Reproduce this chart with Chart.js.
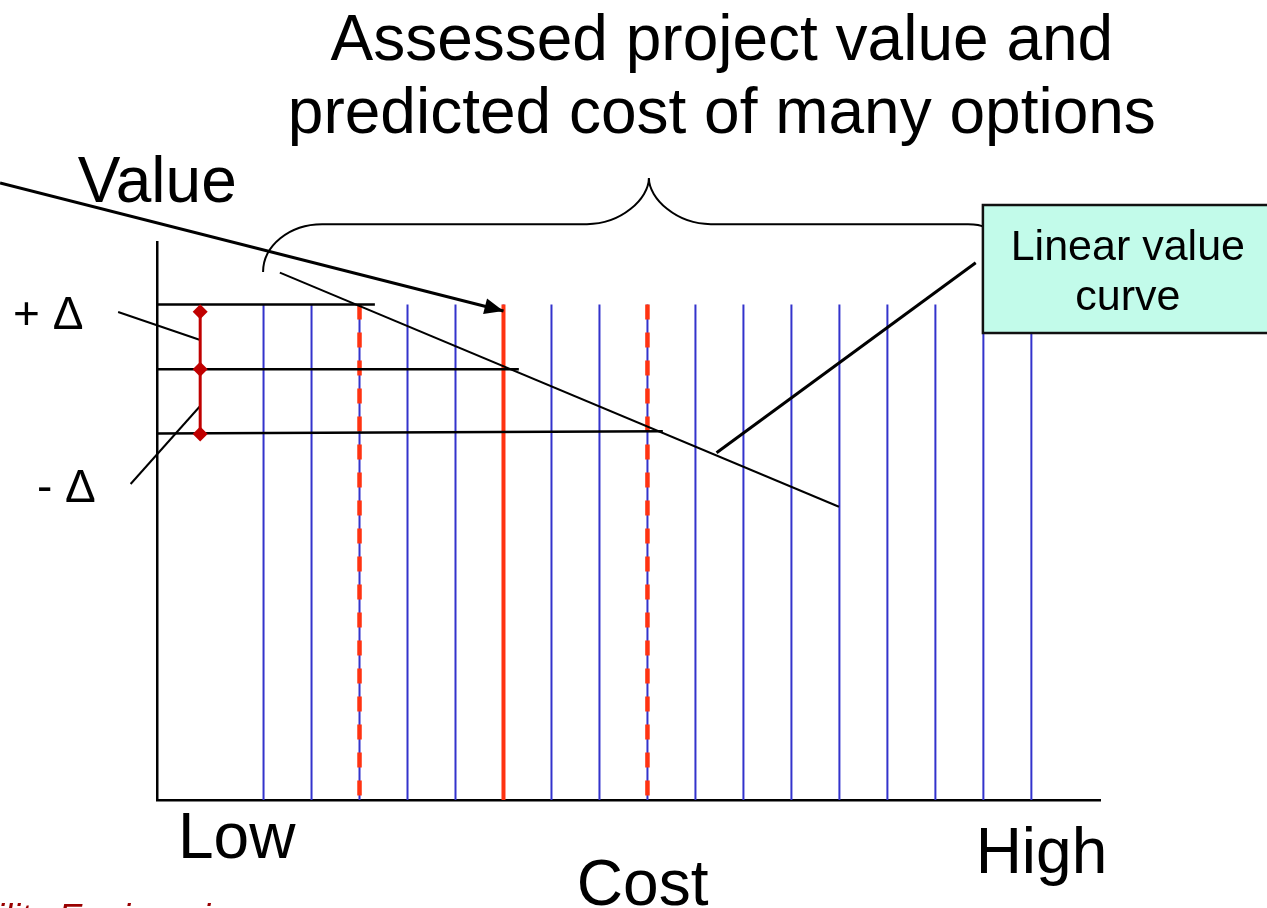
<!DOCTYPE html>
<html>
<head>
<meta charset="utf-8">
<script src="https://cdn.jsdelivr.net/npm/chart.js@4.4.1/dist/chart.umd.min.js"></script>
<style>
  html, body { margin: 0; padding: 0; background: #fff; overflow: hidden; }
  #wrap { width: 1267px; height: 908px; }
</style>
</head>
<body>
<div id="wrap"><canvas id="c" width="1267" height="908"></canvas></div>
<script>
// Options laid out along the cost axis, each drawn up to its assessed value
const optionCost  = [1, 2, 3, 4, 5, 6, 7, 8, 9, 10, 11, 12, 13, 14, 15, 16, 17];
const optionValue = [88.8, 88.8, 88.8, 88.8, 88.8, 88.8, 88.8, 88.8, 88.8, 88.8, 88.8, 88.8, 88.8, 88.8, 88.8, 88.8, 88.8];

// Option picked at the assessed value, and the options picked at +Δ / -Δ
const centralOption = 6;
const bandOptions = [3, 9];

// Assessed value with its uncertainty band (+Δ, assessed, -Δ)
const errorBarCost = -0.32;
const deltaMarkers = [87.5, 77.2, 65.6];
const guideStart   = [88.8, 77.2, 65.7];
const guideEnd     = [88.8, 77.2, 66.1];
const guideEndCost = [3.32, 6.32, 9.32];

// Linear value curve (cost -> value)
const curveCost  = [1.34, 12.99];
const curveValue = [94.5, 52.56];

// Pointer from the "Value" label to the chosen option
const arrowCost  = [-4.49, 6];
const arrowValue = [110.57, 87.63];

// Leader lines for the annotations
const plusLeaderCost   = [-2.03, -0.32];
const plusLeaderValue  = [87.46, 82.44];
const minusLeaderCost  = [-1.77, -0.32];
const minusLeaderValue = [56.63, 70.61];
const curveLeaderCost  = [10.44, 15.84];
const curveLeaderValue = [62.24, 96.29];

// Axis texts
const costTicks  = ['Low', 'High'];
const costTitle  = 'Cost';
const valueTitle = 'Value';
const titleLines = ['Assessed project value and', 'predicted cost of many options'];
const calloutLines = ['Linear value', 'curve'];

const BLUE = '#3333cc';
const RED = '#ff3311';
const DARK_RED = '#c00000';
const FONT = '"Liberation Sans", Arial, Helvetica, sans-serif';

const pts = (xs, ys) => xs.map((x, i) => ({ x: x, y: ys[i] }));
const lineDs = (data, extra) => Object.assign({
  type: 'line', data: data, borderColor: '#000', borderWidth: 2.5,
  pointRadius: 0, fill: false, tension: 0, clip: false, order: 3
}, extra || {});

const datasets = [];

// every option as a thin blue stem
optionCost.forEach((c, i) => {
  datasets.push(lineDs([{ x: c, y: optionValue[i] }, { x: c, y: 0 }],
    { borderColor: BLUE, borderWidth: 2, order: 10 }));
});

// highlighted options
bandOptions.forEach(c => {
  const i = optionCost.indexOf(c);
  datasets.push(lineDs([{ x: c, y: optionValue[i] }, { x: c, y: 0 }],
    { borderColor: RED, borderWidth: 4.5, borderDash: [15, 13], order: 6 }));
});
{
  const i = optionCost.indexOf(centralOption);
  datasets.push(lineDs([{ x: centralOption, y: optionValue[i] }, { x: centralOption, y: 0 }],
    { borderColor: RED, borderWidth: 4, order: 6 }));
}

// horizontal guides from the value axis to the curve
guideStart.forEach((v, i) => {
  datasets.push(lineDs([{ x: -1.22, y: v }, { x: guideEndCost[i], y: guideEnd[i] }], { order: 4 }));
});

// value curve and leader lines
datasets.push(lineDs(pts(curveCost, curveValue), { borderWidth: 2 }));
datasets.push(lineDs(pts(plusLeaderCost, plusLeaderValue), { borderWidth: 2 }));
datasets.push(lineDs(pts(minusLeaderCost, minusLeaderValue), { borderWidth: 2 }));
datasets.push(lineDs(pts(curveLeaderCost, curveLeaderValue), { borderWidth: 3 }));

// arrow to the chosen option
const arrowIndex = datasets.length;
datasets.push(lineDs(pts(arrowCost, arrowValue), { borderWidth: 3, order: 2 }));

// error bar with diamond markers
datasets.push(lineDs(deltaMarkers.map(v => ({ x: errorBarCost, y: v })), {
  borderColor: DARK_RED, borderWidth: 3, pointRadius: 7.5, pointStyle: 'rectRot',
  pointBackgroundColor: DARK_RED, pointBorderColor: DARK_RED, pointBorderWidth: 0, order: 1
}));

// text placed in data coordinates: [text, cost, value, align, size]
const labels = [
  [titleLines[0], 10.55, 132.62, 'center', 64],
  [titleLines[1], 10.55, 119.53, 'center', 64],
  [valueTitle, -2.87, 107.17, 'left', 64],
  [costTicks[0], 0.44, -10.39, 'center', 64],
  [costTicks[1], 17.21, -13.08, 'center', 64],
  [costTitle, 8.9, -18.82, 'center', 64],
  ['+ \u0394', -4.22, 84.41, 'left', 46],
  ['- \u0394', -3.72, 53.41, 'left', 46],
  [calloutLines[0], 19.01, 96.77, 'center', 43],
  [calloutLines[1], 19.01, 87.81, 'center', 43]
];

const annotations = {
  id: 'annotations',
  afterDatasetsDraw(chart) {
    const ctx = chart.ctx;
    const X = v => chart.scales.x.getPixelForValue(v);
    const Y = v => chart.scales.y.getPixelForValue(v);
    ctx.save();

    // arrowhead at the end of the pointer
    const meta = chart.getDatasetMeta(arrowIndex);
    const p0 = meta.data[0], p1 = meta.data[1];
    const ang = Math.atan2(p1.y - p0.y, p1.x - p0.x);
    ctx.translate(p1.x, p1.y);
    ctx.rotate(ang);
    ctx.beginPath();
    ctx.moveTo(0, 0);
    ctx.lineTo(-19, -8);
    ctx.lineTo(-19, 8);
    ctx.closePath();
    ctx.fillStyle = '#000';
    ctx.fill();
    ctx.setTransform(1, 0, 0, 1, 0, 0);

    // curly brace spanning the options
    const bx0 = X(0.99), by0 = Y(94.62);
    const flatY = Y(103.2);
    const bx1 = X(2.22), bx2 = X(7.74), tipX = X(9.03), tipY = Y(111.47), bx3 = X(10.32);
    const bx4 = X(15.68), bxEnd = X(16.01), byEnd = Y(102.69);
    const k = 0.552;
    ctx.beginPath();
    ctx.moveTo(bx0, by0);
    ctx.bezierCurveTo(bx0, by0 - (by0 - flatY) * k, bx1 - (bx1 - bx0) * k, flatY, bx1, flatY);
    ctx.lineTo(bx2, flatY);
    ctx.bezierCurveTo(bx2 + (tipX - bx2) * k, flatY, tipX, flatY - (flatY - tipY) * k, tipX, tipY);
    ctx.bezierCurveTo(tipX, flatY - (flatY - tipY) * k, bx3 - (bx3 - tipX) * k, flatY, bx3, flatY);
    ctx.lineTo(bx4, flatY);
    ctx.quadraticCurveTo(bxEnd - 4, flatY, bxEnd, byEnd);
    ctx.lineWidth = 2;
    ctx.strokeStyle = '#000';
    ctx.stroke();

    // callout box for the value curve
    const boxL = X(15.99), boxT = Y(106.63), boxB = Y(83.69);
    ctx.fillStyle = '#c2fbea';
    ctx.fillRect(boxL, boxT, 320, boxB - boxT);
    ctx.lineWidth = 2.5;
    ctx.strokeStyle = '#111';
    ctx.strokeRect(boxL, boxT, 320, boxB - boxT);

    // texts
    ctx.textBaseline = 'alphabetic';
    ctx.fillStyle = '#000';
    labels.forEach(l => {
      ctx.font = l[4] + 'px ' + FONT;
      ctx.textAlign = l[3];
      ctx.fillText(l[0], X(l[1]), Y(l[2]));
    });

    // footer text running off the page edge
    ctx.font = 'italic 36px ' + FONT;
    ctx.textAlign = 'left';
    ctx.fillStyle = '#990000';
    const pre = ctx.measureText('Reliability ').width;
    ctx.fillText('Reliability Engineering', X(-3.28) - pre, Y(-23.3));

    ctx.restore();
  }
};

new Chart(document.getElementById('c'), {
  type: 'line',
  data: { datasets: datasets },
  options: {
    responsive: false,
    animation: false,
    events: [],
    layout: { padding: { left: 157, top: 242, right: 167, bottom: 108 } },
    plugins: { legend: { display: false }, tooltip: { enabled: false }, title: { display: false } },
    scales: {
      x: {
        type: 'linear', min: -1.22, max: 18.43,
        ticks: { display: false },
        grid: { display: false, drawTicks: false },
        border: { display: true, color: '#000', width: 2.5 }
      },
      y: {
        type: 'linear', min: 0, max: 100,
        ticks: { display: false },
        grid: { display: false, drawTicks: false },
        border: { display: true, color: '#000', width: 2.5 }
      }
    }
  },
  plugins: [annotations]
});
</script>
</body>
</html>
